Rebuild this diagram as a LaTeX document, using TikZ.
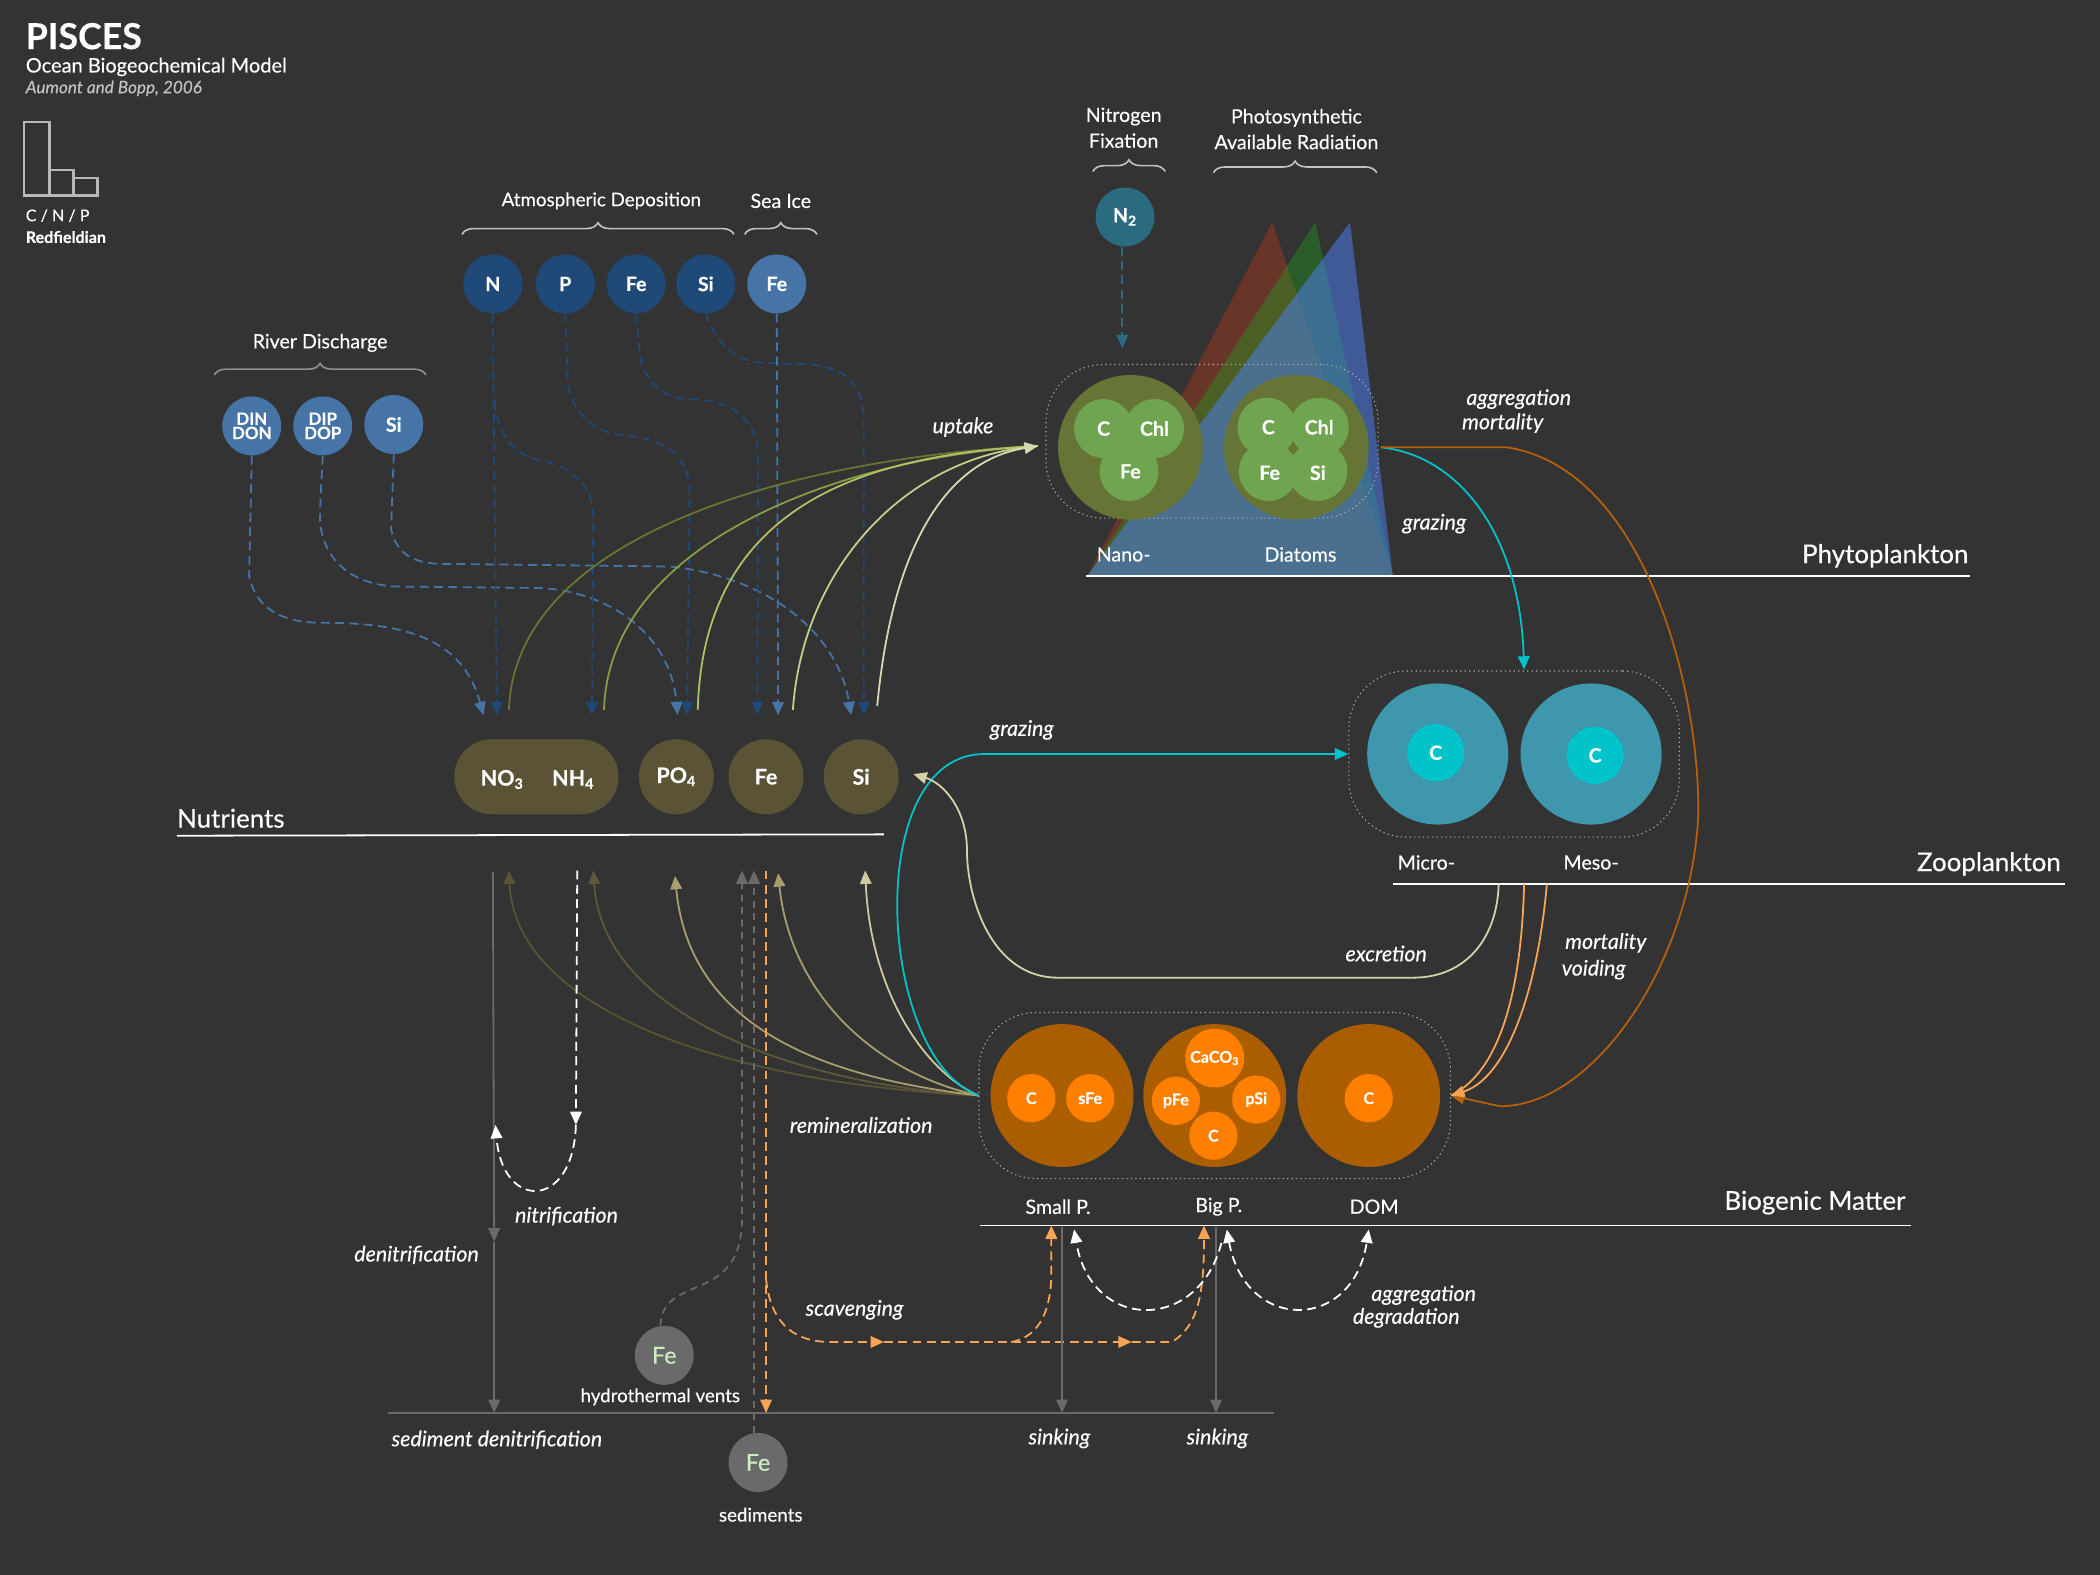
\documentclass[tikz,border=0pt]{standalone}
\usepackage{xcolor}
\usepackage{fontspec}
\setmainfont{Lato}[FakeBold=0.3]
\usetikzlibrary{arrows.meta,shapes.misc,decorations.pathreplacing}

\definecolor{bgdark}{HTML}{333333}
\definecolor{atmblue}{HTML}{1F4A78}
\definecolor{rivblue}{HTML}{4674A6}
\definecolor{ntwoteal}{HTML}{2A6B80}
\definecolor{nutbrown}{HTML}{5A5335}
\definecolor{phyouter}{HTML}{667535}
\definecolor{phyinner}{HTML}{6FA550}
\definecolor{zoouter}{HTML}{3F97AE}
\definecolor{cyanflow}{HTML}{00C4CA}
\definecolor{bioouter}{HTML}{AB5E00}
\definecolor{bioinner}{HTML}{FF7F00}
\definecolor{lorange}{HTML}{F8A457}
\definecolor{dorange}{HTML}{B4600C}
\definecolor{greyflow}{HTML}{6A6A6A}
\definecolor{ventfe}{HTML}{C8F0C0}

\tikzset{
  lbl/.style={text=white,inner sep=0pt,font=\fontsize{11}{12}\selectfont},
  proc/.style={text=white,inner sep=0pt,font=\fontsize{12}{13}\selectfont\itshape},
  head/.style={text=white,inner sep=0pt,anchor=east,font=\fontsize{14.5}{16}\selectfont},
  disc/.style={circle,inner sep=0pt,minimum size=33pt,text=white,font=\fontsize{11}{10}\selectfont\bfseries},
  bigdisc/.style={circle,inner sep=0pt,minimum size=80pt},
  smalldisc/.style={disc,minimum size=27pt,fill=bioinner,font=\fontsize{9}{10}\selectfont\bfseries},
  chem/.style={disc,fill=phyinner,text=white},
  group/.style={draw=white!60!bgdark,line width=0.6pt,dash pattern=on 0.7pt off 1.8pt,rounded corners=32pt},
  bracket/.style={draw=white!70!bgdark,line width=0.9pt,decorate,decoration={brace,amplitude=6.5pt}},
  atmflow/.style={draw=atmblue,line width=1pt,dash pattern=on 5pt off 3pt},
  rivflow/.style={draw=rivblue,line width=1pt,dash pattern=on 5pt off 3pt},
  flowtip/.style={-{Triangle[length=7.5pt,width=6.5pt]}},
  wdash/.style={draw=white,line width=1pt,dash pattern=on 5pt off 3pt},
  odash/.style={draw=lorange,line width=1pt,dash pattern=on 5pt off 3pt},
  gdash/.style={draw=greyflow,line width=1pt,dash pattern=on 4pt off 3pt},
}

\begin{document}
\begin{tikzpicture}[x=0.75pt,y=0.75pt,yscale=-1,xscale=1]
\fill[bgdark] (0,0) rectangle (1568,1176);
\useasboundingbox (0,0) rectangle (1568,1176);

%Shape: Light wedges
\fill [fill={rgb,255:red,188;green,58;blue,26},fill opacity=0.4] (950,166) -- (812,430) -- (1040,430) -- cycle;
\fill [fill={rgb,255:red,31;green,158;blue,33},fill opacity=0.4] (982,166) -- (812,430) -- (1040,430) -- cycle;
\fill [fill={rgb,255:red,75;green,129;blue,249},fill opacity=0.5] (1008,166) -- (812,430) -- (1040,430) -- cycle;

%Shape: Bars
\draw [draw=white!65!bgdark,line width=1.5pt] (18,91) rectangle (37,146);
\draw [draw=white!65!bgdark,line width=1.5pt] (37,127) rectangle (55,146);
\draw [draw=white!65!bgdark,line width=1.5pt] (55,133) rectangle (73,146);

%Shape: Braces
\draw [bracket] (345,175) -- (548,175);
\draw [bracket] (556,175) -- (610,175);
\draw [bracket,draw=white!45!bgdark] (160,280) -- (318,280);
\draw [bracket] (816,128) -- (870,128);
\draw [bracket] (906,129) -- (1028,129);

%Straight Lines: section rules
\draw [white,line width=1pt] (132,624) -- (660,623);
\draw [white,line width=1pt] (811,430) -- (1471,430);
\draw [white,line width=1pt] (1040,660) -- (1542,660);
\draw [white,line width=1pt] (732,915) -- (1427,915);
\draw [greyflow,line width=1pt] (290,1055) -- (951,1055);

%Shape: Groups
\draw (905,329.5) node (phyGroup) [group,minimum width=186pt,minimum height=86pt] {};
\draw (1130.5,563) node (zooGroup) [group,minimum width=185pt,minimum height=93pt] {};
\draw (907,818) node (bioGroup) [group,minimum width=264pt,minimum height=93pt] {};

%Shape: Source discs
\draw (368,212) node (atmN) [disc,fill=atmblue] {N};
\draw (422,212) node (atmP) [disc,fill=atmblue] {P};
\draw (475,212) node (atmFe) [disc,fill=atmblue] {Fe};
\draw (527,212) node (atmSi) [disc,fill=atmblue] {Si};
\draw (580,212) node (iceFe) [disc,fill=rivblue] {Fe};
\draw (188,318) node (rivDin) [disc,fill=rivblue,align=center,font=\fontsize{9.5}{8}\selectfont\bfseries] {DIN\\DON};
\draw (241,318) node (rivDip) [disc,fill=rivblue,align=center,font=\fontsize{9.5}{8}\selectfont\bfseries] {DIP\\DOP};
\draw (294,317) node (rivSi) [disc,fill=rivblue] {Si};
\draw (840,162) node (ntwo) [disc,fill=ntwoteal] {N\textsubscript{2}};
\draw (496,1012) node (ventFe) [disc,fill=greyflow,text=ventfe,font=\fontsize{13}{14}\selectfont] {Fe};
\draw (566,1092) node (sedFe) [disc,fill=greyflow,text=ventfe,font=\fontsize{13}{14}\selectfont] {Fe};

%Shape: Nutrients
\draw (400.5,580) node (nutNit) [rounded rectangle,fill=nutbrown,minimum width=92pt,minimum height=42pt,inner sep=0pt] {};
\draw (505,580) node (nutPo) [disc,fill=nutbrown,minimum size=42pt,font=\fontsize{12}{14}\selectfont\bfseries] {PO\textsubscript{4}};
\draw (572,580) node (nutFe) [disc,fill=nutbrown,minimum size=42pt,font=\fontsize{12}{14}\selectfont\bfseries] {Fe};
\draw (643,580) node (nutSi) [disc,fill=nutbrown,minimum size=42pt,font=\fontsize{12}{14}\selectfont\bfseries] {Si};
\draw (375,582) node (nutNo) [text=white,inner sep=0pt,font=\fontsize{12}{14}\selectfont\bfseries] {NO\textsubscript{3}};
\draw (428,582) node (nutNh) [text=white,inner sep=0pt,font=\fontsize{12}{14}\selectfont\bfseries] {NH\textsubscript{4}};

%Shape: Phytoplankton
\draw (844,334) node (nanoCell) [bigdisc,fill=phyouter,minimum size=81pt] {};
\draw (968,334) node (diaCell) [bigdisc,fill=phyouter,minimum size=81pt] {};
\draw (824,320) node (nanoC) [chem] {};
\draw (862,320) node (nanoChl) [chem] {};
\draw (843,352) node (nanoFe) [chem] {};
\draw (946,319) node (diaC) [chem] {};
\draw (985,319) node (diaChl) [chem] {};
\draw (947,352) node (diaFe) [chem] {};
\draw (984,352) node (diaSi) [chem] {};
\draw (824,320) node (nanoCt) [disc,minimum size=0pt] {C};
\draw (862,320) node (nanoChlt) [disc,minimum size=0pt] {Chl};
\draw (844,352) node (nanoFet) [disc,minimum size=0pt] {Fe};
\draw (947,319) node (diaCt) [disc,minimum size=0pt] {C};
\draw (985,319) node (diaChlt) [disc,minimum size=0pt] {Chl};
\draw (948,353) node (diaFet) [disc,minimum size=0pt] {Fe};
\draw (984,353) node (diaSit) [disc,minimum size=0pt] {Si};

%Shape: Zooplankton
\draw (1073.5,563) node (micCell) [bigdisc,fill=zoouter,minimum size=79pt] {};
\draw (1188,563) node (mesCell) [bigdisc,fill=zoouter,minimum size=79pt] {};
\draw (1072,562) node (micC) [disc,fill=cyanflow,minimum size=32pt] {C};
\draw (1191,564) node (mesC) [disc,fill=cyanflow,minimum size=32pt] {C};

%Shape: Biogenic matter
\draw (793,818) node (smlCell) [bigdisc,fill=bioouter] {};
\draw (907,818) node (bigCell) [bigdisc,fill=bioouter] {};
\draw (1022,818) node (domCell) [bigdisc,fill=bioouter] {};
\draw (770,820) node (smlC) [smalldisc] {C};
\draw (814,820) node (smlFe) [smalldisc] {sFe};
\draw (907,790) node (bigCa) [smalldisc,minimum size=33pt] {CaCO\textsubscript{3}};
\draw (878,822) node (bigFe) [smalldisc] {pFe};
\draw (938,821) node (bigSi) [smalldisc] {pSi};
\draw (906,848) node (bigC) [smalldisc] {C};
\draw (1022,820) node (domC) [smalldisc] {C};

%Coordinates: arrow ends
\coordinate (inNoA) at (361,534);
\coordinate (inNoB) at (371,534);
\coordinate (inNh) at (442,534);
\coordinate (inPoA) at (506,534);
\coordinate (inPoB) at (513,534);
\coordinate (inFeA) at (565.5,534);
\coordinate (inFeB) at (581,534);
\coordinate (inSiA) at (635.5,534);
\coordinate (inSiB) at (645,534);
\coordinate (upNo) at (380,530);
\coordinate (upNh) at (451,530);
\coordinate (upPo) at (521,530);
\coordinate (upFe) at (592,530);
\coordinate (upSi) at (655,527);
\coordinate (upTip) at (775,333);
\coordinate (minNo) at (380,650);
\coordinate (minNh) at (443,650);
\coordinate (minPo) at (504,654);
\coordinate (minFe) at (581,652);
\coordinate (minSi) at (646,650);
\coordinate (exTip) at (682,578);
\coordinate (zooOut) at (1119,660);
\coordinate (zooMort) at (1138,660);
\coordinate (zooVoid) at (1155,660);
\coordinate (phyOut) at (1031,334);
\coordinate (phyTip) at (1138,500);
\coordinate (ntwoTip) at (838,260);
\coordinate (denTop) at (368,651);
\coordinate (denMid) at (369,927);
\coordinate (denSed) at (369,1055);
\coordinate (nitTop) at (431,650);
\coordinate (nitTip) at (430,840);
\coordinate (amxTip) at (370,840);
\coordinate (ventTip) at (554,650);
\coordinate (sedTip) at (563,650);
\coordinate (scavTop) at (572,650);
\coordinate (scavFork) at (572,955);
\coordinate (scavEnd) at (572,1055);
\coordinate (scavA) at (660,1002);
\coordinate (scavB) at (755,1002);
\coordinate (scavC) at (845,1002);
\coordinate (smlTip) at (785,915);
\coordinate (bigTip) at (899,915);
\coordinate (smlTop) at (793,916);
\coordinate (bigTop) at (908,916);
\coordinate (smlSed) at (793,1055);
\coordinate (bigSed) at (908,1055);
\coordinate (aggA) at (802,918);
\coordinate (aggB) at (916,918);
\coordinate (aggC) at (1022,918);
\coordinate (aggD) at (912,928);

%Curve Lines: river discharge
\draw [rivflow,flowtip] (rivDin.south) -- (186,430) .. controls (190,450) and (205,465) .. (240,465) .. controls (300,465) and (345,475) .. (inNoA);
\draw [rivflow,flowtip] (rivDip.south) .. controls (240,360) and (239,375) .. (239,390) .. controls (242,420) and (265,438) .. (300,438) -- (400,439) .. controls (450,440) and (500,470) .. (inPoA);
\draw [rivflow,flowtip] (rivSi.south) -- (292,395) .. controls (295,410) and (305,421) .. (330,421) -- (500,423) .. controls (570,430) and (625,470) .. (inSiA);

%Curve Lines: atmospheric deposition
\draw [atmflow,flowtip] (atmN.south) -- (inNoB);
\draw [atmflow,flowtip] (369.5,300) .. controls (372,330) and (390,342) .. (405,344) .. controls (430,350) and (443,365) .. (443,385) -- (inNh);
\draw [atmflow,flowtip] (atmP.south) -- (424,287) .. controls (428,310) and (445,323) .. (465,325) .. controls (495,327) and (514,340) .. (515,365) -- (inPoB);
\draw [atmflow,flowtip] (atmFe.south) -- (478,267) .. controls (482,285) and (495,298) .. (515,298) .. controls (545,298) and (565,312) .. (566,340) -- (inFeA);
\draw [atmflow,flowtip] (atmSi.south) .. controls (532,250) and (545,270) .. (570,271) -- (605,272) .. controls (630,275) and (645,285) .. (645,315) -- (inSiB);
\draw [rivflow,flowtip] (iceFe.south) -- (inFeB);
\draw [draw=ntwoteal,line width=1pt,dash pattern=on 5pt off 3pt,flowtip] (ntwo.south) ++(-2,0) -- (ntwoTip);

%Curve Lines: uptake
\draw [draw={rgb,255:red,106;green,117;blue,52},line width=1pt] (upNo) .. controls (385,390) and (620,340) .. (upTip);
\draw [draw={rgb,255:red,138;green,156;blue,69},line width=1pt] (upNh) .. controls (455,400) and (640,340) .. (upTip);
\draw [draw={rgb,255:red,174;green,194;blue,101},line width=1pt] (upPo) .. controls (525,380) and (640,340) .. (upTip);
\draw [draw={rgb,255:red,197;green,207;blue,138},line width=1pt] (upFe) .. controls (600,420) and (680,340) .. (upTip);
\draw [draw={rgb,255:red,213;green,217;blue,176},line width=1pt,flowtip] (upSi) .. controls (665,420) and (700,345) .. (upTip);

%Curve Lines: remineralization
\draw [draw={rgb,255:red,90;green,83;blue,53},line width=1pt,flowtip] (bioGroup.west) .. controls (560,810) and (385,760) .. (minNo);
\draw [draw={rgb,255:red,95;green,88;blue,56},line width=1pt,flowtip] (bioGroup.west) .. controls (600,810) and (450,760) .. (minNh);
\draw [draw={rgb,255:red,169;green,158;blue,109},line width=1pt,flowtip] (bioGroup.west) .. controls (620,805) and (515,770) .. (minPo);
\draw [draw={rgb,255:red,168;green,158;blue,109},line width=1pt,flowtip] (bioGroup.west) .. controls (650,800) and (590,740) .. (minFe);
\draw [draw={rgb,255:red,208;green,201;blue,160},line width=1pt,flowtip] (bioGroup.west) .. controls (690,800) and (650,740) .. (minSi);

%Curve Lines: grazing and losses
\draw [draw=cyanflow,line width=1pt,flowtip] (bioGroup.west) .. controls (655,790) and (643,563) .. (735,563) -- (zooGroup.west);
\draw [draw=cyanflow,line width=1pt,flowtip] (phyOut) .. controls (1090,340) and (1135,400) .. (phyTip);
\draw [draw=dorange,line width=1pt,flowtip] (phyOut) -- (1125,334) .. controls (1230,350) and (1270,520) .. (1268,610) .. controls (1262,720) and (1190,826) .. (1120,826) -- (bioGroup.east);
\draw [draw=lorange,line width=1pt] (zooMort) .. controls (1136,740) and (1120,800) .. (bioGroup.east);
\draw [draw=lorange,line width=1pt,flowtip] (zooVoid) .. controls (1148,740) and (1125,805) .. (bioGroup.east);
\draw [draw={rgb,255:red,214;green,210;blue,168},line width=1pt,flowtip] (zooOut) .. controls (1118,700) and (1095,730) .. (1055,730) -- (790,730) .. controls (740,730) and (722,670) .. (722,635) .. controls (722,605) and (705,585) .. (exTip);

%Straight Lines: sediment side
\draw [draw=greyflow,line width=1pt,flowtip] (denTop) -- (denMid);
\draw [draw=greyflow,line width=1pt,flowtip] (denMid) -- (denSed);
\draw [wdash,flowtip] (nitTop) -- (nitTip);
\draw [wdash,flowtip] (nitTip) .. controls (428,904) and (375,904) .. (amxTip);
\draw [gdash,flowtip] (ventFe.north) ++(-3,0) .. controls (495,950) and (554,975) .. (554,910) -- (ventTip);
\draw [gdash,flowtip] (sedFe.north) ++(-3,0) -- (sedTip);
\draw [odash,flowtip] (scavTop) -- (scavEnd);
\draw [odash,flowtip] (scavFork) .. controls (575,985) and (590,1002) .. (620,1002) -- (scavA);
\draw [odash,flowtip] (scavA) -- (scavC);
\draw [odash,flowtip] (scavC) -- (875,1002) .. controls (895,990) and (899,965) .. (bigTip);
\draw [odash,flowtip] (scavB) .. controls (778,998) and (785,975) .. (785,950) -- (smlTip);
\draw [draw=greyflow,line width=1pt,flowtip] (smlTop) -- (smlSed);
\draw [draw=greyflow,line width=1pt,flowtip] (bigTop) -- (bigSed);
\draw [wdash,flowtip] (aggD) .. controls (895,995) and (815,995) .. (aggA);
\draw [wdash,{Triangle[length=7.5pt,width=6.5pt]}-{Triangle[length=7.5pt,width=6.5pt]}] (aggB) .. controls (930,995) and (1010,995) .. (aggC);

% Text Node
\draw (19,27) node (title) [anchor=west,text=white,inner sep=0pt,font=\fontsize{20}{22}\selectfont\bfseries] {PISCES};
\draw (19,50) node (subtitle) [anchor=west,text=white,inner sep=0pt,font=\fontsize{11.2}{12}\selectfont] {Ocean Biogeochemical Model};
\draw (19,66) node (citation) [anchor=west,text=white!70!bgdark,inner sep=0pt,font=\fontsize{9.6}{10}\selectfont\itshape] {Aumont and Bopp, 2006};
\draw (19,161) node (ratio) [anchor=west,text=white,inner sep=0pt,font=\fontsize{9}{10}\selectfont] {C / N / P};
\draw (19,177) node (redfield) [anchor=west,text=white,inner sep=0pt,font=\fontsize{9}{10}\selectfont\bfseries] {Redfieldian};
\draw (449,150) node (atmText) [lbl,font=\fontsize{10.5}{12}\selectfont] {Atmospheric Deposition};
\draw (583,150) node (iceText) [lbl] {Sea Ice};
\draw (239,256) node (rivText) [lbl] {River Discharge};
\draw (839,87) node (fixTextA) [lbl] {Nitrogen};
\draw (839,105) node (fixTextB) [lbl] {Fixation};
\draw (968,88) node (parTextA) [lbl] {Photosynthetic};
\draw (968,106) node (parTextB) [lbl] {Available Radiation};
\draw (839,414) node (nanoText) [lbl] {Nano-};
\draw (971,414) node (diaText) [lbl] {Diatoms};
\draw (1470,415) node (phyHead) [head] {Phytoplankton};
\draw (1065,644) node (micText) [lbl] {Micro-};
\draw (1188,644) node (mesText) [lbl] {Meso-};
\draw (1539,645) node (zooHead) [head] {Zooplankton};
\draw (790,901) node (smlText) [lbl] {Small P.};
\draw (910,901) node (bigText) [lbl] {Big P.};
\draw (1026,901) node (domText) [lbl] {DOM};
\draw (1423,898) node (bioHead) [head] {Biogenic Matter};
\draw (132,611) node (nutHead) [head,anchor=west] {Nutrients};
\draw (719,319) node (upText) [proc] {uptake};
\draw (1134,298) node (aggTextA) [proc] {aggregation};
\draw (1122,316) node (mortTextA) [proc] {mortality};
\draw (1071,391) node (grazTextA) [proc] {grazing};
\draw (763,545) node (grazTextB) [proc] {grazing};
\draw (1035,712) node (excText) [proc] {excretion};
\draw (1199,704) node (mortTextB) [proc] {mortality};
\draw (1190,724) node (voidText) [proc] {voiding};
\draw (643,840) node (remText) [proc] {remineralization};
\draw (423,908) node (nitText) [proc] {nitrification};
\draw (311,937) node (denText) [proc] {denitrification};
\draw (638,978) node (scavText) [proc] {scavenging};
\draw (1063,967) node (aggTextB) [proc] {aggregation};
\draw (1050,984) node (degText) [proc] {degradation};
\draw (493,1043) node (ventText) [lbl,font=\fontsize{10.5}{12}\selectfont] {hydrothermal vents};
\draw (371,1075) node (sedDenText) [proc] {sediment denitrification};
\draw (568,1131) node (sedText) [lbl,font=\fontsize{10.5}{12}\selectfont] {sediments};
\draw (791,1074) node (sinkTextA) [proc] {sinking};
\draw (909,1074) node (sinkTextB) [proc] {sinking};

\end{tikzpicture}
\end{document}
